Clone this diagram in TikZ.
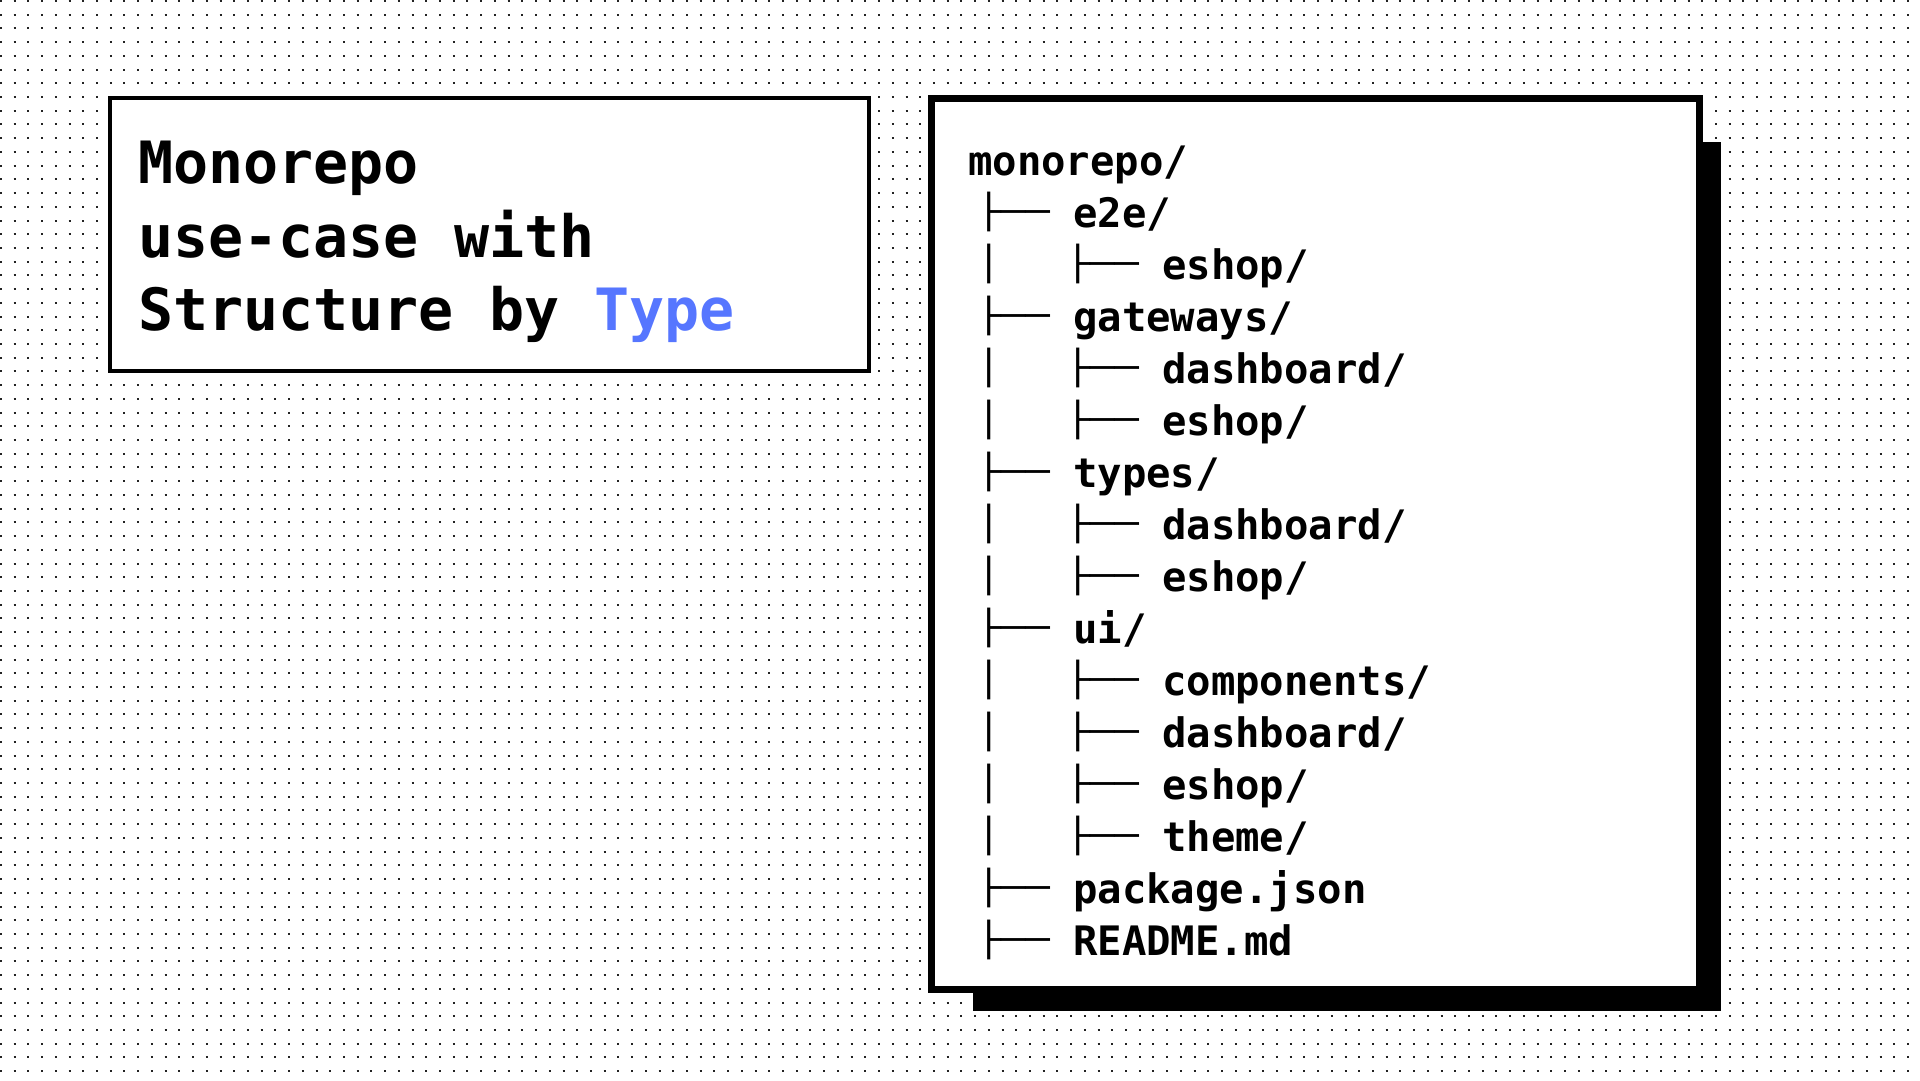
\documentclass[tikz,border=0pt]{standalone}
\usepackage{fontspec}
\usepackage{graphicx}
\newfontfamily\monofam{DejaVu Sans Mono}
\definecolor{typeblue}{HTML}{5676FF}
\definecolor{dotcol}{HTML}{222222}
\begin{document}
\begin{tikzpicture}[x=1pt,y=-1pt,
  ttl/.style={anchor=base west, inner sep=0pt, font=\monofam\bfseries\fontsize{58.3}{68}\selectfont},
  ftxt/.style={anchor=base west, inner sep=0pt, font=\monofam\bfseries\fontsize{40.6}{46}\selectfont},
  tg/.style={anchor=base west, inner sep=0pt, font=\monofam\fontsize{33.5}{40}\selectfont},
  box/.style={draw=black, fill=white, inner sep=0pt, rectangle}]
\useasboundingbox (0,0) rectangle (1920,1080);
\fill[white] (0,0) rectangle (1920,1080);
% dotted background
\foreach \j in {0,...,78}{
  \draw[dotcol, line width=2pt, dash pattern=on 2pt off 11.72pt] (0,{1+13.72*\j}) -- (1920,{1+13.72*\j});
}
% title box
\node[box, line width=4pt, minimum width=759pt, minimum height=273pt] (titlebox) at (489.5,234.5) {};
\node[ttl] (t1) at (138,183) {Monorepo};
\node[ttl] (t2) at (138,257) {use-case with};
\node[ttl] (t3) at (138,330) {Structure by {\color{typeblue}Type}};
% tree box with shadow
\fill[black] (972.7,142) rectangle (1721,1011);
\node[box, line width=6.7pt, minimum width=768.4pt, minimum height=891.4pt] (treebox) at (1315.5,544) {};
% tree
\node[ftxt] (r0) at (968,175) {monorepo/};
% level-1 branches
\foreach \j/\lbl in {1/e2e, 3/gw, 6/ty, 9/ui, 14/pk, 15/rd}{
  \node[tg] (b1-\lbl) at (976.3,{171+52*\j}) {\scalebox{1.21}[1]{├──}};
}
% level-1 continuation bars
\foreach \j in {2,4,5,7,8,10,11,12,13}{
  \node[tg] (v1-\j) at (976.3,{171+52*\j}) {\scalebox{1.21}[1]{│}};
}
% level-2 branches
\foreach \j in {2,4,5,7,8,10,11,12,13}{
  \node[tg] (b2-\j) at (1065.3,{171+52*\j}) {\scalebox{1.21}[1]{├──}};
}
\node[ftxt] (r1) at (1073,227) {e2e/};
\node[ftxt] (r2) at (1162,279) {eshop/};
\node[ftxt] (r3) at (1073,331) {gateways/};
\node[ftxt] (r4) at (1162,383) {dashboard/};
\node[ftxt] (r5) at (1162,435) {eshop/};
\node[ftxt] (r6) at (1073,487) {types/};
\node[ftxt] (r7) at (1162,539) {dashboard/};
\node[ftxt] (r8) at (1162,591) {eshop/};
\node[ftxt] (r9) at (1073,643) {ui/};
\node[ftxt] (r10) at (1162,695) {components/};
\node[ftxt] (r11) at (1162,747) {dashboard/};
\node[ftxt] (r12) at (1162,799) {eshop/};
\node[ftxt] (r13) at (1162,851) {theme/};
\node[ftxt] (r14) at (1073,903) {package.json};
\node[ftxt] (r15) at (1073,955) {README.md};
\end{tikzpicture}
\end{document}
